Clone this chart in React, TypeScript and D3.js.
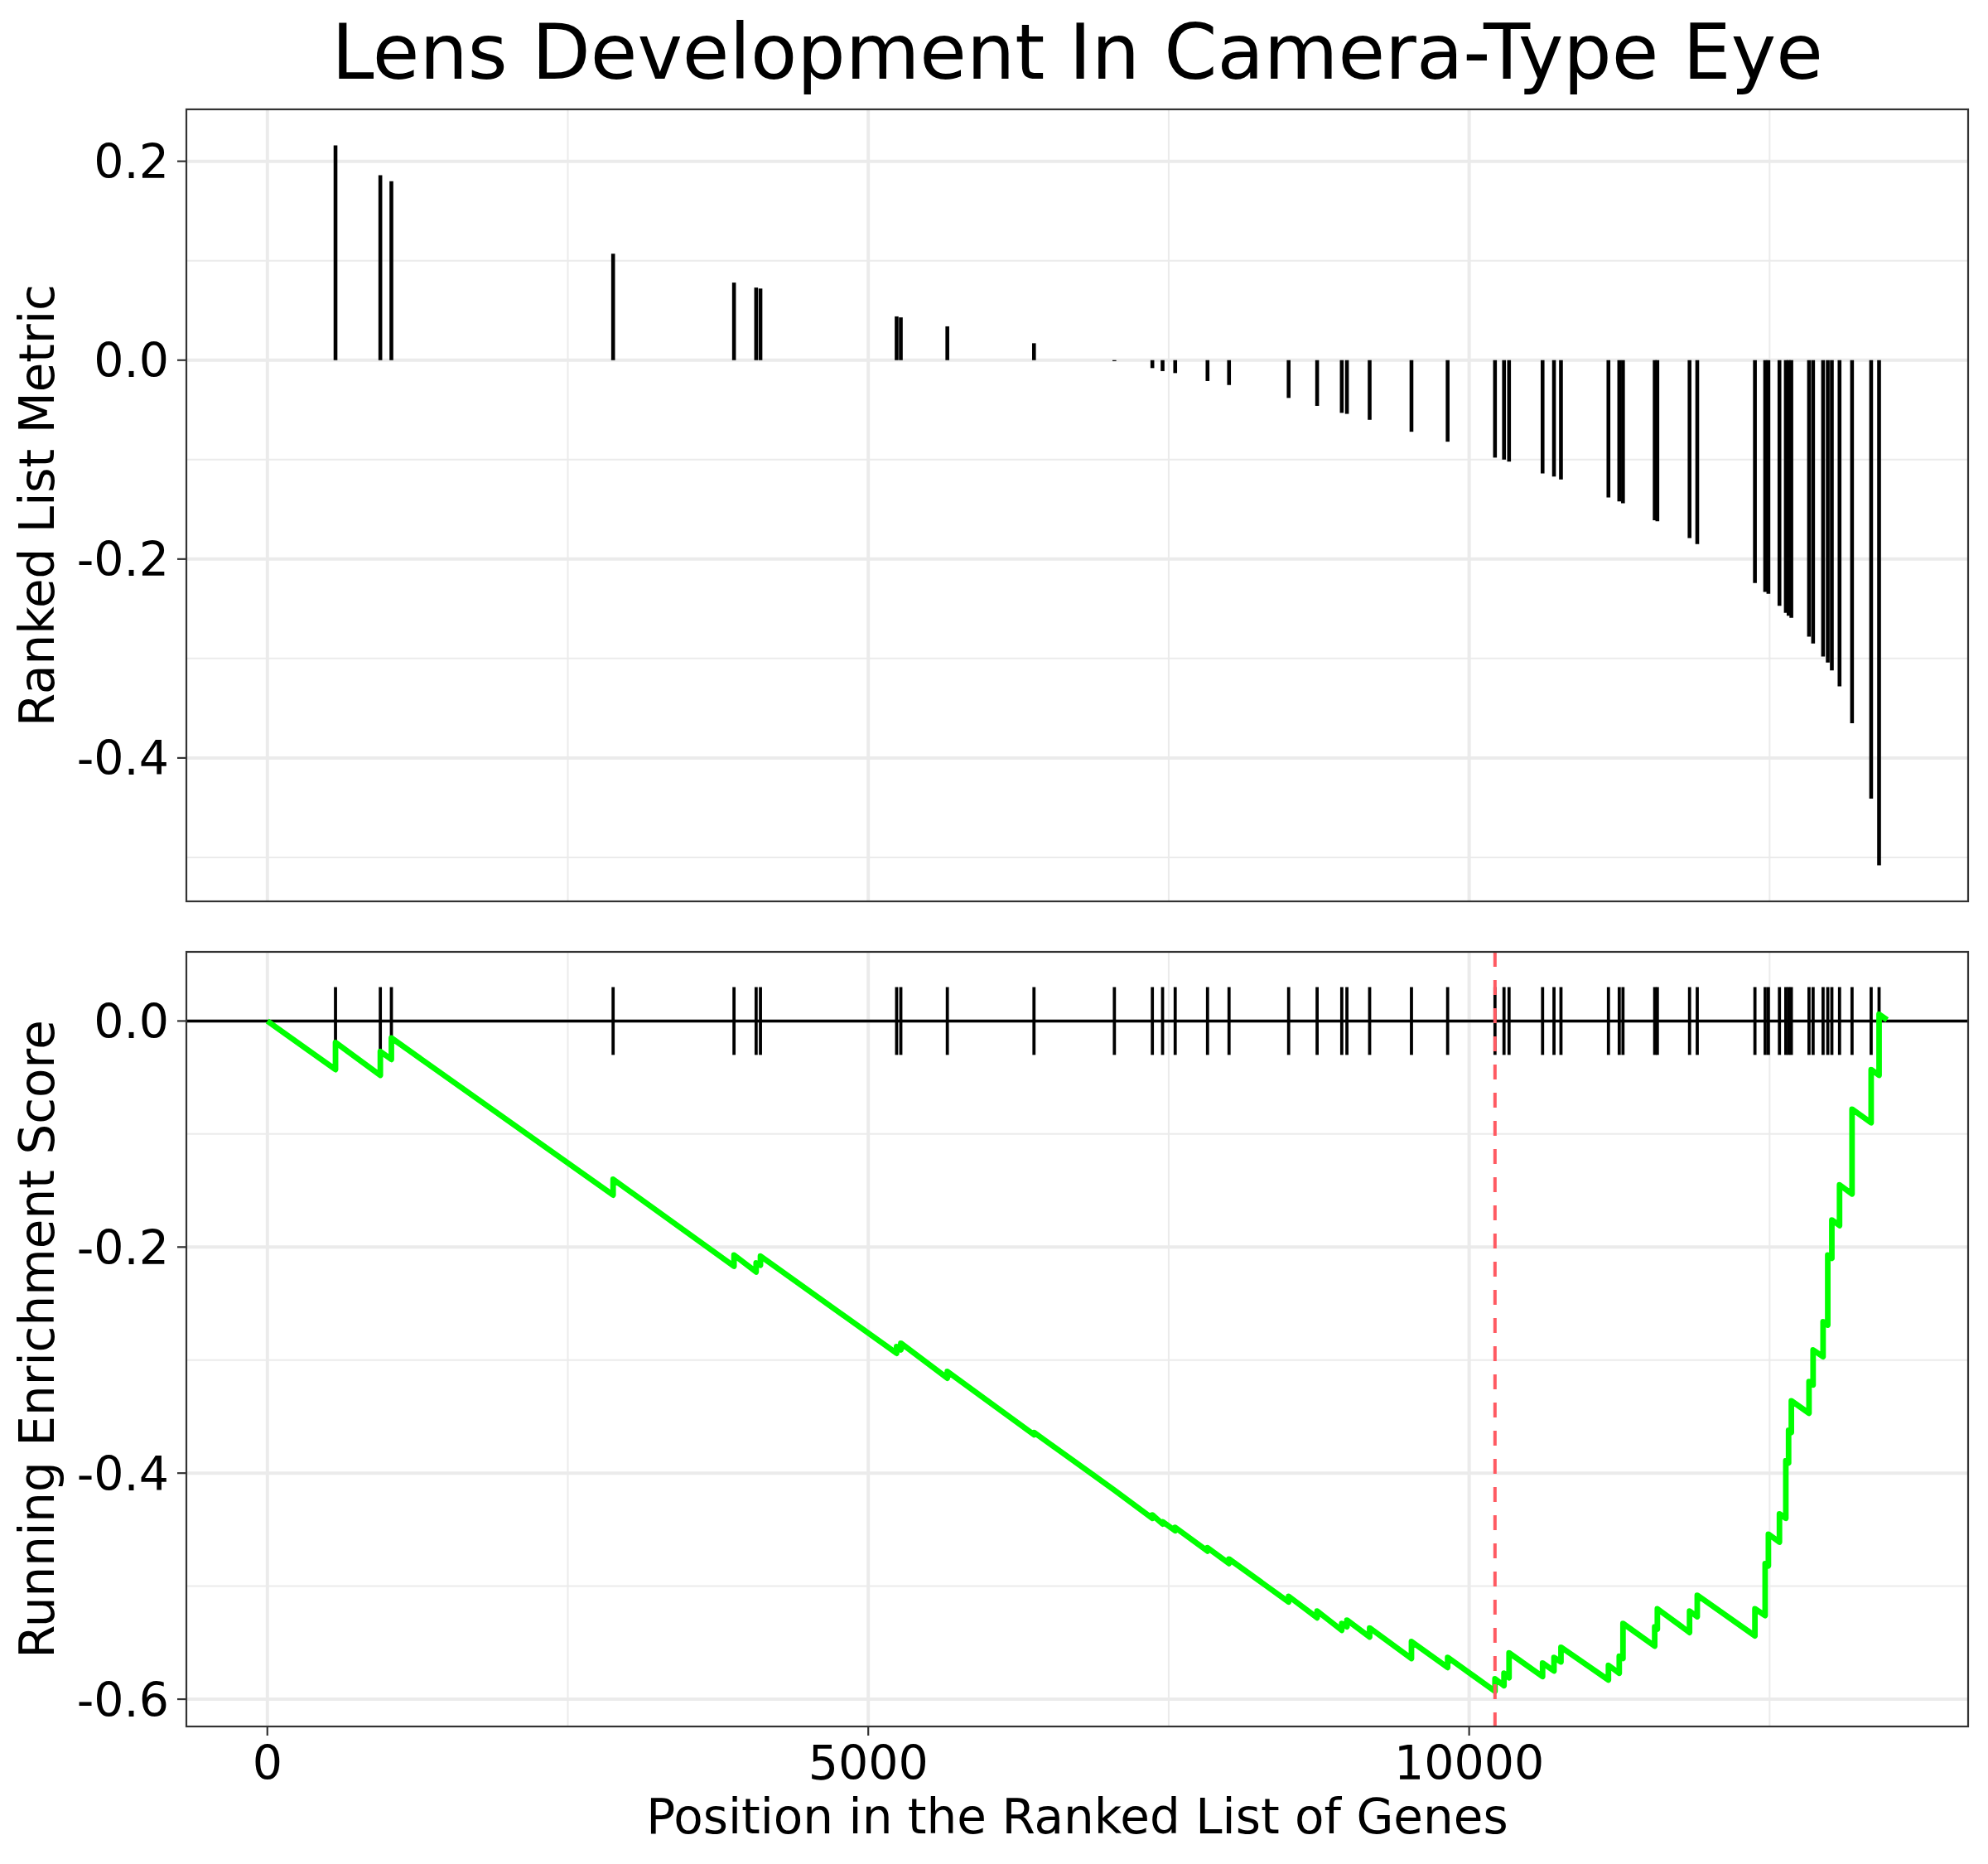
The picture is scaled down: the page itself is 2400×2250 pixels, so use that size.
import React, { useEffect, useRef } from 'react';
import * as d3 from 'd3';

// genes of the set, by position in the ranked list
const hitPositions = [
  567, 940, 1032, 2877, 3883, 4067, 4103, 5236, 5271, 5658,
  6379, 7048, 7364, 7449, 7554, 7823, 8002, 8498, 8735, 8940,
  8983, 9172, 9520, 9821, 10215, 10290, 10332, 10611, 10706, 10764,
  11159, 11249, 11280, 11544, 11566, 11834, 11898, 12378, 12463, 12490,
  12582, 12635, 12658, 12681, 12828, 12862, 12945, 12984, 13018, 13082,
  13186, 13345, 13411,
];

// ranked list metric at each hit
const rankedMetric = [
  0.216, 0.186, 0.18, 0.107, 0.078, 0.073, 0.072, 0.044, 0.043, 0.034,
  0.017, -0.001, -0.008, -0.011, -0.013, -0.021, -0.025, -0.038, -0.046, -0.053,
  -0.054, -0.06, -0.072, -0.082, -0.098, -0.1, -0.102, -0.114, -0.117, -0.12,
  -0.138, -0.142, -0.144, -0.161, -0.162, -0.179, -0.185, -0.224, -0.233, -0.235,
  -0.247, -0.254, -0.257, -0.259, -0.278, -0.285, -0.298, -0.304, -0.312, -0.328,
  -0.365, -0.441, -0.508,
];

// running enrichment score just before / after each hit
const esBefore = [
  -0.043, -0.048, -0.034, -0.154, -0.217, -0.222, -0.216, -0.294, -0.291, -0.316,
  -0.366, -0.415, -0.44, -0.445, -0.451, -0.469, -0.48, -0.514, -0.528, -0.539,
  -0.536, -0.545, -0.564, -0.572, -0.593, -0.588, -0.581, -0.58, -0.575, -0.567,
  -0.583, -0.577, -0.564, -0.553, -0.538, -0.541, -0.527, -0.544, -0.526, -0.482,
  -0.461, -0.44, -0.391, -0.364, -0.347, -0.322, -0.297, -0.269, -0.21, -0.181,
  -0.153, -0.09, -0.048,
];
const esAfter = [
  -0.019, -0.027, -0.015, -0.14, -0.207, -0.214, -0.208, -0.288, -0.285, -0.31,
  -0.364, -0.415, -0.437, -0.443, -0.448, -0.466, -0.476, -0.509, -0.522, -0.533,
  -0.53, -0.537, -0.549, -0.563, -0.582, -0.577, -0.559, -0.568, -0.563, -0.554,
  -0.57, -0.562, -0.533, -0.536, -0.52, -0.522, -0.508, -0.52, -0.48, -0.454,
  -0.436, -0.389, -0.362, -0.336, -0.319, -0.291, -0.266, -0.207, -0.176, -0.145,
  -0.078, -0.043, 0.006,
];

const totalGenes = 13478;
const esStart = 0;
const esEnd = 0.001;
const peakPosition = 10215;
const tickHalfHeight = 0.03;

const xTicks = [0, 5000, 10000];
const xMinor = [2500, 7500, 12500];
const topTicks = [0.2, 0, -0.2, -0.4];
const topMinor = [0.1, -0.1, -0.3, -0.5];
const bottomTicks = [0, -0.2, -0.4, -0.6];
const bottomMinor = [-0.1, -0.3, -0.5];

const expand = (lo, hi) => {
  const pad = (hi - lo) * 0.05;
  return [lo - pad, hi + pad];
};

const App = () => {
  const ref = useRef(null);

  useEffect(() => {
    d3.select(ref.current).selectAll('*').remove();

    const W = 2400;
    const H = 2250;
    const left = 225;
    const right = 2376;
    const top1 = 132, bot1 = 1088;
    const top2 = 1149, bot2 = 2084;
    const font = 'DejaVu Sans, Liberation Sans, sans-serif';
    const grid = '#EBEBEB';
    const fmt = (v) => v.toFixed(1);

    const svg = d3.select(ref.current)
      .append('svg')
      .attr('width', W)
      .attr('height', H)
      .style('position', 'absolute')
      .style('left', '0px')
      .style('top', '0px')
      .style('background', '#fff');

    svg.append('rect').attr('width', W).attr('height', H).attr('fill', '#fff');

    const x = d3.scaleLinear()
      .domain(expand(0, totalGenes))
      .range([left, right]);

    const yTop = d3.scaleLinear()
      .domain(expand(d3.min(rankedMetric), d3.max(rankedMetric)))
      .range([bot1, top1]);

    const yBot = d3.scaleLinear()
      .domain(expand(d3.min(esBefore), tickHalfHeight))
      .range([bot2, top2]);

    const drawPanel = (y, t, b, majors, minors) => {
      const g = svg.append('g');
      g.selectAll('.hmin').data(minors).enter().append('line')
        .attr('x1', left).attr('x2', right)
        .attr('y1', d => y(d)).attr('y2', d => y(d))
        .attr('stroke', grid).attr('stroke-width', 2);
      g.selectAll('.vmin').data(xMinor).enter().append('line')
        .attr('x1', d => x(d)).attr('x2', d => x(d))
        .attr('y1', t).attr('y2', b)
        .attr('stroke', grid).attr('stroke-width', 2);
      g.selectAll('.hmaj').data(majors).enter().append('line')
        .attr('x1', left).attr('x2', right)
        .attr('y1', d => y(d)).attr('y2', d => y(d))
        .attr('stroke', grid).attr('stroke-width', 4);
      g.selectAll('.vmaj').data(xTicks).enter().append('line')
        .attr('x1', d => x(d)).attr('x2', d => x(d))
        .attr('y1', t).attr('y2', b)
        .attr('stroke', grid).attr('stroke-width', 4);

      // y axis ticks and labels
      g.selectAll('.yt').data(majors).enter().append('line')
        .attr('x1', left - 11).attr('x2', left)
        .attr('y1', d => y(d)).attr('y2', d => y(d))
        .attr('stroke', '#333').attr('stroke-width', 2.2);
      g.selectAll('.yl').data(majors).enter().append('text')
        .attr('x', left - 21)
        .attr('y', d => y(d))
        .attr('dy', '0.36em')
        .attr('text-anchor', 'end')
        .attr('font-family', font)
        .attr('font-size', 57)
        .attr('fill', '#000')
        .text(d => fmt(d));
      return g;
    };

    // top panel: ranked list metric
    drawPanel(yTop, top1, bot1, topTicks, topMinor);
    svg.append('g').selectAll('line').data(hitPositions).enter().append('line')
      .attr('x1', d => x(d)).attr('x2', d => x(d))
      .attr('y1', yTop(0))
      .attr('y2', (d, i) => yTop(rankedMetric[i]))
      .attr('stroke', '#000').attr('stroke-width', 4.6);
    svg.append('rect')
      .attr('x', left).attr('y', top1)
      .attr('width', right - left).attr('height', bot1 - top1)
      .attr('fill', 'none').attr('stroke', '#333').attr('stroke-width', 2.2);

    // bottom panel: running enrichment score
    drawPanel(yBot, top2, bot2, bottomTicks, bottomMinor);
    svg.append('line')
      .attr('x1', left).attr('x2', right)
      .attr('y1', yBot(0)).attr('y2', yBot(0))
      .attr('stroke', '#000').attr('stroke-width', 3.4);
    svg.append('g').selectAll('line').data(hitPositions).enter().append('line')
      .attr('x1', d => x(d)).attr('x2', d => x(d))
      .attr('y1', yBot(tickHalfHeight)).attr('y2', yBot(-tickHalfHeight))
      .attr('stroke', '#000').attr('stroke-width', 3.8);

    const pts = [[0, esStart]];
    hitPositions.forEach((p, i) => {
      pts.push([p, esBefore[i]]);
      pts.push([p, esAfter[i]]);
    });
    pts.push([totalGenes, esEnd]);

    const line = d3.line()
      .x(d => x(d[0]))
      .y(d => yBot(d[1]));

    svg.append('path')
      .datum(pts)
      .attr('fill', 'none')
      .attr('stroke', '#00FF00')
      .attr('stroke-width', 6.8)
      .attr('stroke-linejoin', 'round')
      .attr('d', line);

    svg.append('line')
      .attr('x1', x(peakPosition)).attr('x2', x(peakPosition))
      .attr('y1', top2).attr('y2', bot2)
      .attr('stroke', '#FF5A62')
      .attr('stroke-width', 4)
      .attr('stroke-dasharray', '18 16');

    svg.append('rect')
      .attr('x', left).attr('y', top2)
      .attr('width', right - left).attr('height', bot2 - top2)
      .attr('fill', 'none').attr('stroke', '#333').attr('stroke-width', 2.2);

    // x axis
    svg.append('g').selectAll('line').data(xTicks).enter().append('line')
      .attr('x1', d => x(d)).attr('x2', d => x(d))
      .attr('y1', bot2).attr('y2', bot2 + 11)
      .attr('stroke', '#333').attr('stroke-width', 2.2);
    svg.append('g').selectAll('text').data(xTicks).enter().append('text')
      .attr('x', d => x(d))
      .attr('y', 2148)
      .attr('text-anchor', 'middle')
      .attr('font-family', font)
      .attr('font-size', 57)
      .attr('fill', '#000')
      .text(d => d);

    // titles
    svg.append('text')
      .attr('x', (left + right) / 2)
      .attr('y', 2213)
      .attr('text-anchor', 'middle')
      .attr('font-family', font)
      .attr('font-size', 58)
      .text('Position in the Ranked List of Genes');

    svg.append('text')
      .attr('transform', `translate(65,${(top1 + bot1) / 2}) rotate(-90)`)
      .attr('text-anchor', 'middle')
      .attr('font-family', font)
      .attr('font-size', 58)
      .text('Ranked List Metric');

    svg.append('text')
      .attr('transform', `translate(65,${(top2 + bot2) / 2}) rotate(-90)`)
      .attr('text-anchor', 'middle')
      .attr('font-family', font)
      .attr('font-size', 58)
      .text('Running Enrichment Score');

    svg.append('text')
      .attr('x', (left + right) / 2)
      .attr('y', 95)
      .attr('text-anchor', 'middle')
      .attr('font-family', font)
      .attr('font-size', 92)
      .text('Lens Development In Camera-Type Eye');
  }, []);

  return <div ref={ref}></div>;
};

export default App;
